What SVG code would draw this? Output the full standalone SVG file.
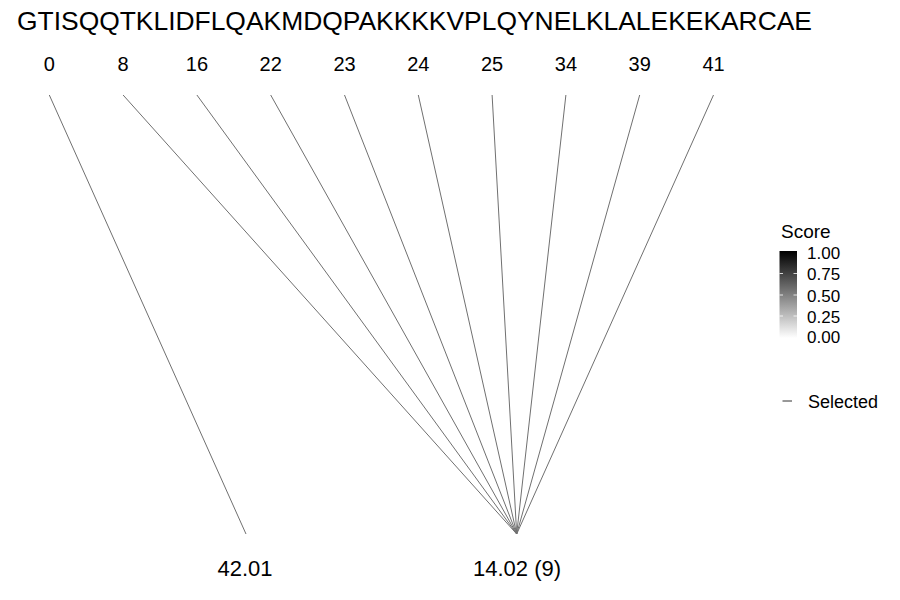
<svg xmlns="http://www.w3.org/2000/svg" width="900" height="600" viewBox="0 0 900 600">
<defs>
<style>
text{font-family:"Liberation Sans",Arial,sans-serif;fill:#000}
.t{font-size:26.4px}
.n{font-size:20px;text-anchor:middle}
.b{font-size:22px;text-anchor:middle}
.lg{font-size:17px}
.conn line{stroke:#707070;stroke-width:1;fill:none}
</style>
<linearGradient id="g" x1="0" y1="0" x2="0" y2="1">
<stop offset="0" stop-color="#000"/>
<stop offset="1" stop-color="#fff"/>
</linearGradient>
</defs>
<rect width="900" height="600" fill="#fff"/>
<text class="t" x="17" y="30" textLength="795" lengthAdjust="spacingAndGlyphs">GTISQQTKLIDFLQAKMDQPAKKKKVPLQYNELKLALEKEKARCAE</text>
<g id="positions">
<text class="n" x="49.3" y="71">0</text>
<text class="n" x="123.1" y="71">8</text>
<text class="n" x="196.9" y="71">16</text>
<text class="n" x="270.7" y="71">22</text>
<text class="n" x="344.5" y="71">23</text>
<text class="n" x="418.3" y="71">24</text>
<text class="n" x="492.1" y="71">25</text>
<text class="n" x="565.9" y="71">34</text>
<text class="n" x="639.7" y="71">39</text>
<text class="n" x="713.5" y="71">41</text>
</g>
<g id="connectors" class="conn">
<line x1="49.3" y1="95" x2="246" y2="534"/>
<line x1="123.1" y1="95" x2="516.7" y2="534"/>
<line x1="196.9" y1="95" x2="516.7" y2="534"/>
<line x1="270.7" y1="95" x2="516.7" y2="534"/>
<line x1="344.5" y1="95" x2="516.7" y2="534"/>
<line x1="418.3" y1="95" x2="516.7" y2="534"/>
<line x1="492.1" y1="95" x2="516.7" y2="534"/>
<line x1="565.9" y1="95" x2="516.7" y2="534"/>
<line x1="639.7" y1="95" x2="516.7" y2="534"/>
<line x1="713.5" y1="95" x2="516.7" y2="534"/>
</g>
<g id="node-42">
<text class="b" x="245" y="576">42.01</text>
</g>
<g id="node-14">
<text class="b" x="517" y="576">14.02 (9)</text>
</g>
<g id="legend">
<text x="781" y="238" style="font-size:19px">Score</text>
<rect x="779.5" y="251" width="17.5" height="87" fill="url(#g)"/>
<g stroke="#fff" stroke-width="0.8">
<line x1="779.5" y1="273.5" x2="783" y2="273.5"/><line x1="793.5" y1="273.5" x2="797" y2="273.5"/>
<line x1="779.5" y1="295" x2="783" y2="295"/><line x1="793.5" y1="295" x2="797" y2="295"/>
<line x1="779.5" y1="316" x2="783" y2="316"/><line x1="793.5" y1="316" x2="797" y2="316"/>
</g>
<text class="lg" x="807" y="259">1.00</text>
<text class="lg" x="807" y="280">0.75</text>
<text class="lg" x="807" y="301.5">0.50</text>
<text class="lg" x="807" y="322.5">0.25</text>
<text class="lg" x="807" y="343">0.00</text>
<line x1="782.5" y1="401" x2="792" y2="401" stroke="#333" stroke-width="1"/>
<text x="808" y="408" style="font-size:18px">Selected</text>
</g>
</svg>
